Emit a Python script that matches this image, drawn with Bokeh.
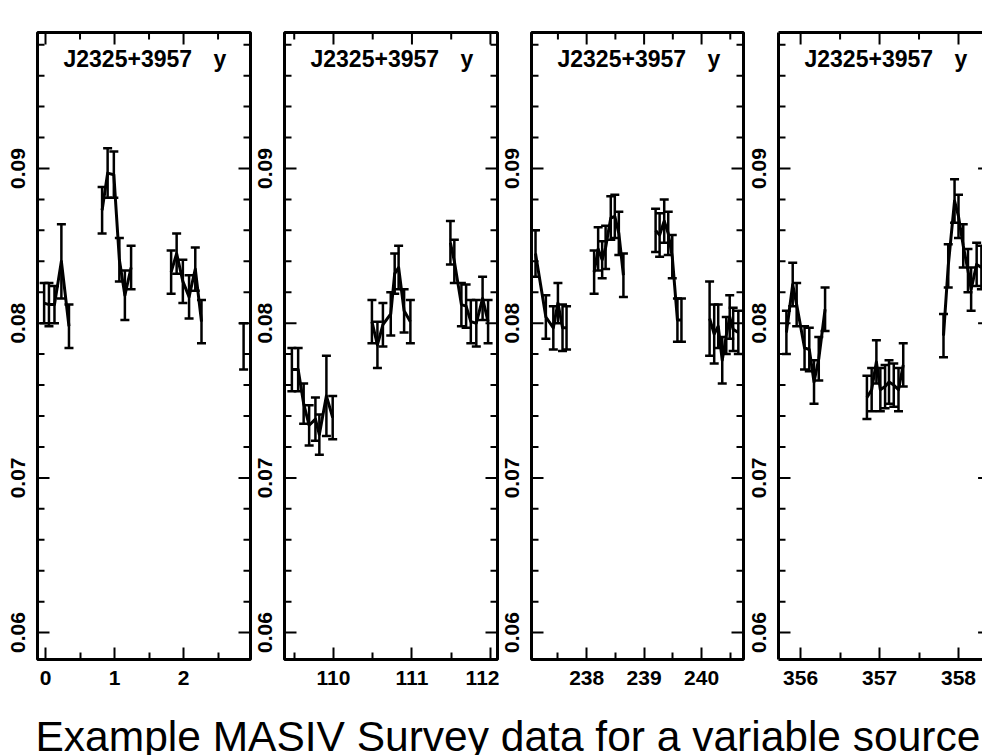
import math
from bokeh.plotting import figure
from bokeh.layouts import column, row
from bokeh.models import FixedTicker, PrintfTickFormatter, LinearAxis, Label, Range1d
from bokeh.core.properties import value
from bokeh.embed import file_html
from bokeh.resources import INLINE

# ---------------- data ----------------
source_name = "J2325+3957"
band = "y"
caption = "Example MASIV Survey data for a variable source"

y_major = [0.06, 0.07, 0.08, 0.09]
y_major_labels = ["0.06", "0.07", "0.08", "0.09"]
y_minor = [0.062, 0.064, 0.066, 0.068, 0.072, 0.074, 0.076, 0.078,
           0.082, 0.084, 0.086, 0.088, 0.092, 0.094, 0.096, 0.098]
y_limits = [0.05826, 0.09879]

# panel 1
x1 = [-0.02, 0.05, 0.13, 0.23, 0.34, 0.82, 0.90, 0.99, 1.07, 1.15, 1.24,
      1.82, 1.90, 1.99, 2.08, 2.17, 2.26, 2.87]
y1 = [0.0813, 0.0812, 0.0812, 0.0840, 0.0798, 0.0873, 0.0897, 0.0896, 0.0841, 0.0818, 0.0836,
      0.0833, 0.0845, 0.0827, 0.0817, 0.0835, 0.0801, 0.0785]
e1 = [0.0013, 0.0014, 0.0012, 0.0024, 0.0014, 0.0015, 0.0016, 0.0015, 0.0014, 0.0016, 0.0014,
      0.0014, 0.0013, 0.0014, 0.0014, 0.0014, 0.0014, 0.0015]
x1_lim = [-0.116, 2.97]
x1_major = [0, 1, 2]
x1_minor = [0.5, 1.5, 2.5]

# panel 2
x2 = [109.47, 109.55, 109.62, 109.69, 109.77, 109.82, 109.91, 109.99,
      110.49, 110.56, 110.63, 110.73, 110.78, 110.83, 110.90, 110.98,
      111.49, 111.54, 111.63, 111.69, 111.75, 111.82, 111.90, 111.97]
y2 = [0.0770, 0.0770, 0.0748, 0.0734, 0.0738, 0.0728, 0.0753, 0.0739,
      0.0801, 0.0786, 0.0799, 0.0806, 0.0832, 0.0836, 0.0808, 0.0801,
      0.0852, 0.0840, 0.0812, 0.0811, 0.0801, 0.0800, 0.0816, 0.0801]
e2 = [0.0014, 0.0014, 0.0013, 0.0013, 0.0014, 0.0013, 0.0026, 0.0014,
      0.0014, 0.0015, 0.0014, 0.0014, 0.0013, 0.0014, 0.0014, 0.0014,
      0.0014, 0.0014, 0.0014, 0.0014, 0.0014, 0.0015, 0.0014, 0.0014]
x2_lim = [109.376, 112.09]
x2_major = [110, 111, 112]
x2_minor = [109.5, 110.5, 111.5]

# panel 3
x3 = [237.11, 237.29, 237.42, 237.50, 237.58, 237.65,
      238.13, 238.20, 238.27, 238.33, 238.42, 238.49, 238.56, 238.64,
      239.20, 239.27, 239.35, 239.42, 239.49, 239.58, 239.65,
      240.14, 240.22, 240.29, 240.36, 240.43, 240.49, 240.55, 240.64]
y3 = [0.0845, 0.0804, 0.0797, 0.0813, 0.0797, 0.0797,
      0.0833, 0.0848, 0.0841, 0.0849, 0.0868, 0.0869, 0.0858, 0.0831,
      0.0860, 0.0857, 0.0866, 0.0858, 0.0843, 0.0802, 0.0802,
      0.0803, 0.0793, 0.0798, 0.0776, 0.0792, 0.0804, 0.0796, 0.0794]
e3 = [0.0015, 0.0014, 0.0014, 0.0013, 0.0015, 0.0014,
      0.0014, 0.0014, 0.0012, 0.0014, 0.0014, 0.0014, 0.0014, 0.0014,
      0.0014, 0.0014, 0.0014, 0.0014, 0.0014, 0.0014, 0.0014,
      0.0024, 0.0019, 0.0014, 0.0015, 0.0012, 0.0014, 0.0014, 0.0014]
x3_lim = [237.04, 240.73]
x3_major = [238, 239, 240]
x3_minor = [237.5, 238.5, 239.5, 240.5]

# panel 4 (its right edge is cut off by the picture)
x4 = [355.82, 355.90, 355.95, 356.05, 356.11, 356.17, 356.23, 356.31,
      356.84, 356.90, 356.96, 357.01, 357.07, 357.12, 357.18, 357.24, 357.30,
      357.81, 357.87, 357.95, 358.00, 358.06, 358.12, 358.16, 358.23, 358.29]
y4 = [0.0794, 0.0825, 0.0812, 0.0784, 0.0783, 0.0762, 0.0777, 0.0809,
      0.0752, 0.0757, 0.0775, 0.0757, 0.0759, 0.0762, 0.0760, 0.0757, 0.0773,
      0.0792, 0.0837, 0.0879, 0.0869, 0.0850, 0.0834, 0.0822, 0.0838, 0.0836]
e4 = [0.0014] * 26
x4_lim = [355.72, 358.304]
x4_frame_end = 358.40
x4_major = [356, 357, 358]
x4_minor = [356.5, 357.5]

# ---------------- styling ----------------
FONT = "Liberation Sans"
FRAME_H = 627
TOP, BOTTOM = 32, 38
MAJ, MIN = 12, 7


def label_strip(w):
    """Narrow figure holding the rotated y tick labels of the panel to its right."""
    s = figure(frame_width=w, frame_height=FRAME_H,
               x_range=Range1d(0, w), y_range=Range1d(*y_limits),
               x_axis_location=None, y_axis_location=None,
               output_backend="svg", toolbar_location=None,
               min_border_left=0, min_border_right=0,
               min_border_top=TOP, min_border_bottom=BOTTOM)
    s.grid.visible = False
    s.outline_line_color = None
    s.text(x=[w - 17.5] * len(y_major), y=y_major, text=y_major_labels,
           angle=math.pi / 2, text_align="center", text_baseline="middle",
           text_font=value(FONT), text_font_style="bold", text_font_size="21px",
           text_color="black")
    return s


def make_panel(xs, ys, es, xlim, xmaj, xmin, fw, br, closed=True, right_edge=None):
    p = figure(frame_width=fw, frame_height=FRAME_H,
               x_range=Range1d(*xlim), y_range=Range1d(*y_limits),
               y_axis_location=None,
               output_backend="svg", toolbar_location=None,
               min_border_left=2, min_border_right=br,
               min_border_top=TOP, min_border_bottom=BOTTOM,
               background_fill_color="white", border_fill_color="white")
    p.grid.visible = False

    ax = p.xaxis[0]
    ax.ticker = FixedTicker(ticks=xmaj, minor_ticks=xmin)
    ax.formatter = PrintfTickFormatter(format="%d")
    ax.major_tick_in = MAJ
    ax.major_tick_out = 0
    ax.minor_tick_in = MIN
    ax.minor_tick_out = 0
    ax.major_tick_line_width = 2
    ax.minor_tick_line_width = 2
    ax.major_tick_line_color = "black"
    ax.minor_tick_line_color = "black"
    ax.major_label_text_font = FONT
    ax.major_label_text_font_style = "bold"
    ax.major_label_text_font_size = "21px"
    ax.major_label_text_color = "black"
    ax.major_label_standoff = 11

    if closed:
        ax.axis_line_color = None
        p.outline_line_color = "black"
        p.outline_line_width = 3
        redge = xlim[1]
    else:
        p.outline_line_color = None
        ax.axis_line_color = "black"
        ax.axis_line_width = 3
        for loc in ("left", "above"):
            la = LinearAxis(ticker=FixedTicker(ticks=[]), axis_line_color="black",
                            axis_line_width=3, major_tick_in=0, major_tick_out=0,
                            minor_tick_in=0, minor_tick_out=0)
            p.add_layout(la, loc)
        redge = right_edge

    xr = xlim[1] - xlim[0]
    yr = y_limits[1] - y_limits[0]
    px_x = xr / fw
    px_y = yr / FRAME_H

    # mirrored frame ticks (left, right, top)
    for vals, L in ((y_major, MAJ), (y_minor, MIN)):
        n = len(vals)
        p.segment(x0=[xlim[0]] * n, y0=vals, x1=[xlim[0] + L * px_x] * n, y1=vals,
                  line_color="black", line_width=2)
        p.segment(x0=[redge] * n, y0=vals, x1=[redge - L * px_x] * n, y1=vals,
                  line_color="black", line_width=2)
    for vals, L in ((xmaj, MAJ), (xmin, MIN)):
        n = len(vals)
        p.segment(x0=vals, y0=[y_limits[1]] * n, x1=vals, y1=[y_limits[1] - L * px_y] * n,
                  line_color="black", line_width=2)

    # split into observing runs where there is a gap in time
    gx, gy = [[xs[0]]], [[ys[0]]]
    for i in range(1, len(xs)):
        if xs[i] - xs[i - 1] > 0.3:
            gx.append([])
            gy.append([])
        gx[-1].append(xs[i])
        gy[-1].append(ys[i])
    p.multi_line(gx, gy, line_color="black", line_width=3, line_join="round")

    lo = [y - e for y, e in zip(ys, es)]
    hi = [y + e for y, e in zip(ys, es)]
    p.segment(x0=xs, y0=lo, x1=xs, y1=hi, line_color="black", line_width=2.5)
    p.scatter(x=xs + xs, y=lo + hi, marker="dash", size=9,
              line_color="black", line_width=2.5)

    # header inside the frame
    ty = y_limits[1] - 26 * px_y
    p.add_layout(Label(x=xlim[0] + 26 * px_x, y=ty, text=source_name,
                       text_font=FONT, text_font_style="bold", text_font_size="23px",
                       text_color="black", text_baseline="alphabetic"))
    p.add_layout(Label(x=xlim[0] + 176 * px_x, y=ty, text=band,
                       text_font=FONT, text_font_style="bold", text_font_size="23px",
                       text_color="black", text_baseline="alphabetic"))
    return p


s1 = label_strip(35)
p1 = make_panel(x1, y1, e1, x1_lim, x1_major, x1_minor, 213, 2)
s2 = label_strip(30)
p2 = make_panel(x2, y2, e2, x2_lim, x2_major, x2_minor, 213, 2)
s3 = label_strip(30)
p3 = make_panel(x3, y3, e3, x3_lim, x3_major, x3_minor, 212, 2)
s4 = label_strip(31)
p4 = make_panel(x4, y4, e4, x4_lim, x4_major, x4_minor, 204, 0,
                closed=False, right_edge=x4_frame_end)

cap = figure(width=982, height=58, x_range=Range1d(0, 982), y_range=Range1d(0, 58),
             x_axis_location=None, y_axis_location=None,
             output_backend="svg", toolbar_location=None,
             min_border=0, min_border_left=0, min_border_right=0,
             min_border_top=0, min_border_bottom=0)
cap.grid.visible = False
cap.outline_line_color = None
cap.add_layout(Label(x=35, y=19, text=caption, text_font=FONT,
                     text_font_size="42.5px", text_color="black",
                     text_baseline="alphabetic"))

layout = column(row(s1, p1, s2, p2, s3, p3, s4, p4, spacing=0), cap, spacing=0)

open("out.html", "w").write(file_html(layout, INLINE))
